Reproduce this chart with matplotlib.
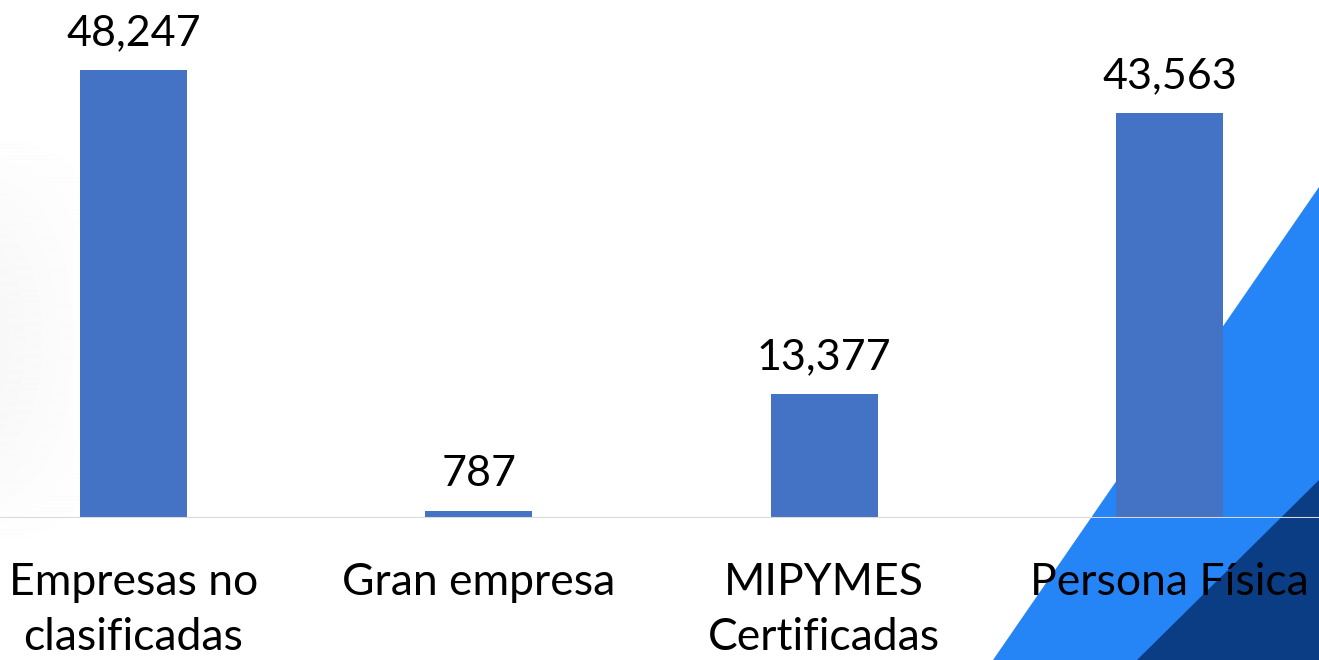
import numpy as np
import matplotlib.pyplot as plt
from matplotlib.patches import Polygon

categorias = ['Empresas no\nclasificadas', 'Gran empresa', 'MIPYMES\nCertificadas', 'Persona Física']
valores = [48247, 787, 13377, 43563]

plt.rcParams['font.family'] = ['Lato', 'DejaVu Sans']

fig = plt.figure(figsize=(13.19, 6.6), dpi=100)

# fondo: degradado gris suave a la izquierda y triangulos azules abajo a la derecha
bg = fig.add_axes([0, 0, 1, 1], zorder=0)
bg.set_xlim(0, 1319)
bg.set_ylim(660, 0)
bg.axis('off')
gx = np.linspace(1, 0, 120)[None, :]
gy = np.sin(np.linspace(0, np.pi, 200))[:, None]
grad = 1 - 0.03 * gx * gy
bg.imshow(grad, cmap='gray', vmin=0, vmax=1, extent=(0, 120, 560, 120), aspect='auto', interpolation='bilinear')
bg.add_patch(Polygon([(993, 660), (1319, 187), (1319, 660)], closed=True, color='#2585F7', lw=0))
bg.add_patch(Polygon([(1137, 660), (1319, 480), (1319, 660)], closed=True, color='#0B3D85', lw=0))

ax = fig.add_axes([0, 0.2152, 1, 0.7848], zorder=1)
ax.patch.set_alpha(0)
x = np.arange(len(categorias))
ax.bar(x, valores, width=0.31, color='#4472C4', zorder=2)
ax.set_xlim(-0.3866, 3.433)
ax.set_ylim(0, 55783)
ax.axhline(0, color='#D9D9D9', lw=1.5, zorder=3)

for i, v in enumerate(valores):
    ax.annotate(f'{v:,}', (x[i], v), xytext=(0, 18), textcoords='offset points',
                ha='center', va='baseline', fontsize=31, color='black', annotation_clip=False)

ax.set_xticks(x)
ax.set_xticklabels(categorias, fontsize=32, linespacing=1.4)
ax.tick_params(axis='x', length=0, pad=32)
ax.set_yticks([])
for s in ax.spines.values():
    s.set_visible(False)

plt.savefig('out.png', dpi=100)
